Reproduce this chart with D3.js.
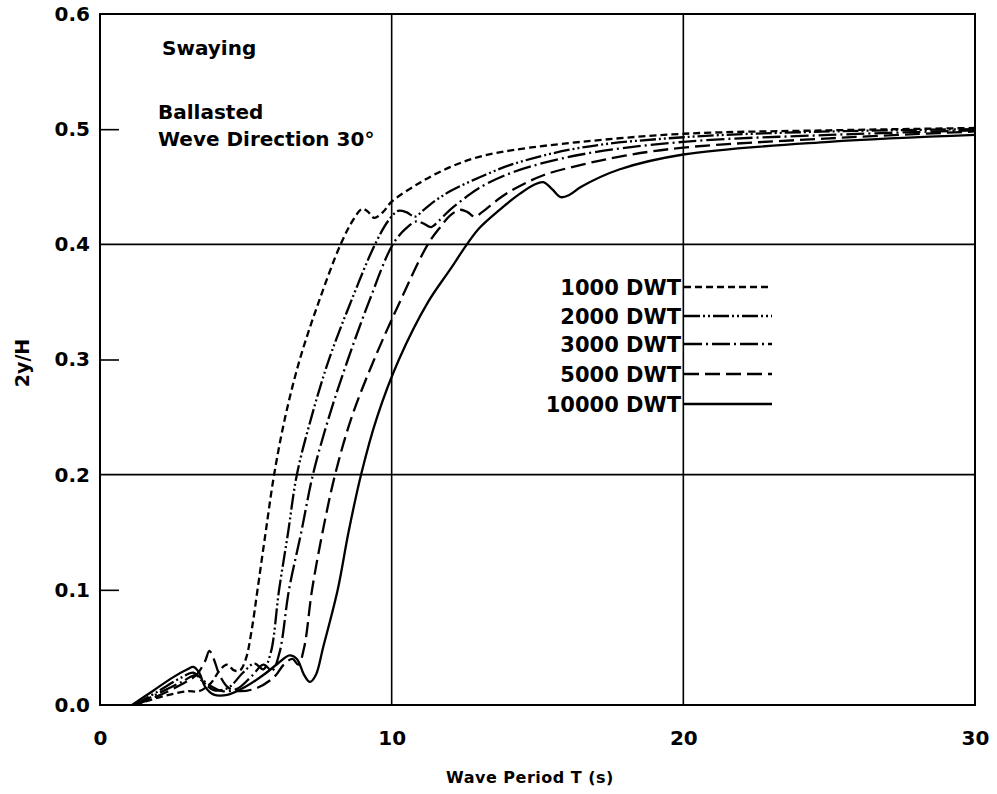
<!DOCTYPE html>
<html>
<head>
<meta charset="utf-8">
<script src="https://cdn.jsdelivr.net/npm/d3@7"></script>
<style>
  html, body { margin: 0; padding: 0; background: #fff; }
  svg text { font-family: "DejaVu Sans", sans-serif; fill: #000; }
</style>
</head>
<body>
<svg id="chart" width="997" height="794"></svg>
<script>
// ---------- data ----------
const xTickValues = [0, 10, 20, 30];
const yTickValues = [0.0, 0.1, 0.2, 0.3, 0.4, 0.5, 0.6];
const yInnerTicks = [0.1, 0.3, 0.5];
const xGrid = [10, 20];
const yGrid = [0.2, 0.4];

const seriesNames = ["1000 DWT", "2000 DWT", "3000 DWT", "5000 DWT", "10000 DWT"];

// [wave period T (s), 2y/H]
const dwt1000 = [[1.2,0],[1.8,0.005],[2.4,0.009],[3.0,0.012],[3.4,0.012],[3.8,0.019],[4.1,0.03],[4.35,0.035],[4.6,0.03],[4.8,0.03],[5.0,0.04],[5.2,0.065],[5.4,0.1],[5.68,0.15],[5.97,0.2],[6.35,0.25],[6.85,0.3],[7.5,0.35],[8.25,0.4],[8.7,0.422],[9.0,0.431],[9.2,0.428],[9.4,0.423],[9.7,0.428],[10,0.437],[11,0.454],[12,0.467],[13,0.476],[14.2,0.482],[16.5,0.489],[20,0.496],[25,0.499],[30,0.501]];
const dwt2000 = [[1.2,0],[2.0,0.012],[2.8,0.024],[3.2,0.028],[3.5,0.021],[3.9,0.013],[4.4,0.015],[4.9,0.028],[5.3,0.036],[5.6,0.031],[5.85,0.045],[6.14,0.1],[6.45,0.15],[6.75,0.2],[7.25,0.25],[7.85,0.3],[8.6,0.35],[9.43,0.4],[9.9,0.421],[10.22,0.429],[10.5,0.428],[10.8,0.424],[11.1,0.43],[11.5,0.438],[12,0.446],[13,0.458],[14.2,0.47],[16.5,0.484],[20,0.493],[25,0.498],[30,0.5]];
const dwt3000 = [[1.2,0],[2.0,0.01],[2.8,0.02],[3.3,0.026],[3.7,0.018],[4.2,0.012],[4.7,0.014],[5.2,0.025],[5.6,0.035],[5.9,0.03],[6.15,0.045],[6.48,0.1],[6.9,0.15],[7.3,0.2],[7.85,0.25],[8.5,0.3],[9.22,0.35],[10.04,0.4],[10.5,0.414],[10.85,0.42],[11.1,0.418],[11.35,0.415],[11.6,0.42],[12,0.43],[12.5,0.44],[13,0.449],[14.2,0.463],[16.5,0.478],[20,0.489],[25,0.495],[30,0.499]];
const dwt5000 = [[1.2,0],[2.0,0.008],[2.8,0.018],[3.3,0.026],[3.6,0.038],[3.75,0.047],[3.9,0.04],[4.1,0.026],[4.4,0.015],[4.8,0.012],[5.4,0.015],[6.0,0.025],[6.3,0.035],[6.6,0.04],[6.8,0.035],[7.0,0.05],[7.27,0.1],[7.63,0.15],[8.06,0.2],[8.63,0.25],[9.4,0.3],[10.28,0.35],[11.24,0.4],[11.7,0.416],[12.0,0.425],[12.35,0.43],[12.6,0.428],[12.85,0.424],[13.1,0.428],[13.7,0.44],[14.2,0.448],[15.2,0.46],[16.5,0.469],[18,0.477],[20,0.484],[25,0.492],[30,0.498]];
const dwt10000 = [[1.1,0],[1.8,0.012],[2.5,0.024],[3.0,0.031],[3.2,0.033],[3.4,0.028],[3.6,0.016],[3.9,0.009],[4.4,0.009],[5.0,0.016],[5.6,0.026],[6.1,0.036],[6.5,0.043],[6.75,0.04],[7.0,0.026],[7.2,0.02],[7.4,0.026],[7.65,0.05],[8.15,0.1],[8.52,0.15],[8.95,0.2],[9.5,0.25],[10.25,0.3],[11.25,0.35],[12.0,0.378],[12.58,0.4],[13,0.414],[13.7,0.43],[14.4,0.444],[14.9,0.452],[15.2,0.454],[15.5,0.448],[15.8,0.441],[16.1,0.443],[16.5,0.45],[17.8,0.465],[20,0.478],[25,0.489],[30,0.495]];

const seriesData = [dwt1000, dwt2000, dwt3000, dwt5000, dwt10000];
const dashes = ["7,4", "16,3,2,3,2,3", "18,4,2,4", "15,6", null];

// ---------- layout ----------
const svg = d3.select("#chart");
const L = 100, R = 975, T = 14, B = 705;
const x = d3.scaleLinear().domain([0, 30]).range([L, R]);
const y = d3.scaleLinear().domain([0, 0.6]).range([B, T]);

// grid lines
svg.append("g").selectAll("line").data(xGrid).join("line")
  .attr("x1", d => x(d)).attr("x2", d => x(d))
  .attr("y1", y(0)).attr("y2", y(0.6))
  .attr("stroke", "#000").attr("stroke-width", 1.6);
svg.append("g").selectAll("line").data(yGrid).join("line")
  .attr("x1", x(0)).attr("x2", x(30))
  .attr("y1", d => y(d)).attr("y2", d => y(d))
  .attr("stroke", "#000").attr("stroke-width", 1.6);

// frame
svg.append("rect")
  .attr("x", x(0)).attr("y", y(0.6))
  .attr("width", x(30) - x(0)).attr("height", y(0) - y(0.6))
  .attr("fill", "none").attr("stroke", "#000").attr("stroke-width", 2);

// inner ticks
const inner = svg.append("g").attr("transform", `translate(${x(0)},0)`)
  .call(d3.axisRight(y).tickValues(yInnerTicks).tickSize(19).tickFormat(""));
inner.select(".domain").remove();
inner.selectAll("line").attr("stroke", "#000").attr("stroke-width", 1.6);

// y axis labels
const yAx = svg.append("g").attr("transform", `translate(${x(0)},0)`)
  .call(d3.axisLeft(y).tickValues(yTickValues).tickSize(0).tickPadding(10).tickFormat(d3.format(".1f")));
yAx.select(".domain").remove();
yAx.selectAll("text").style("font-size", "20px").style("font-weight", "bold").style("font-family", "DejaVu Sans");

// x axis labels
const xAx = svg.append("g").attr("transform", `translate(0,${y(0)})`)
  .call(d3.axisBottom(x).tickValues(xTickValues).tickSize(0).tickPadding(26).tickFormat(d3.format("d")));
xAx.select(".domain").remove();
xAx.selectAll("text").style("font-size", "20px").style("font-weight", "bold").style("font-family", "DejaVu Sans");

// axis titles
svg.append("text").attr("x", 530).attr("y", 783).attr("text-anchor", "middle")
  .style("font-size", "16px").style("font-weight", "bold").style("letter-spacing", "0.5px")
  .text("Wave Period T (s)");
svg.append("text").attr("transform", "translate(29,363) rotate(-90)").attr("text-anchor", "middle")
  .style("font-size", "19px").style("font-weight", "bold")
  .text("2y/H");

// annotations
svg.append("text").attr("x", 162).attr("y", 55).style("font-size", "20px").style("font-weight", "bold").text("Swaying");
svg.append("text").attr("x", 158).attr("y", 119).style("font-size", "20px").style("font-weight", "bold").text("Ballasted");
svg.append("text").attr("x", 158).attr("y", 146).style("font-size", "20px").style("font-weight", "bold").text("Weve Direction 30°");

// curves
const line = d3.line().x(d => x(d[0])).y(d => y(d[1])).curve(d3.curveCatmullRom.alpha(0.5));
svg.append("g").selectAll("path").data(seriesData).join("path")
  .attr("d", d => line(d))
  .attr("fill", "none").attr("stroke", "#000").attr("stroke-width", 2.3)
  .attr("stroke-dasharray", (d, i) => dashes[i]);

// legend
const legendY = [287, 316, 344, 374, 404];
const lg = svg.append("g").selectAll("g").data(seriesNames).join("g")
  .attr("transform", (d, i) => `translate(0,${legendY[i]})`);
lg.append("text").attr("x", 681).attr("dy", "0.36em").attr("text-anchor", "end")
  .style("font-size", "21px").style("font-weight", "bold").text(d => d);
lg.append("line").attr("x1", 684).attr("x2", 772).attr("y1", 0).attr("y2", 0)
  .attr("stroke", "#000").attr("stroke-width", 2.3)
  .attr("stroke-dasharray", (d, i) => dashes[i]);
</script>
</body>
</html>
